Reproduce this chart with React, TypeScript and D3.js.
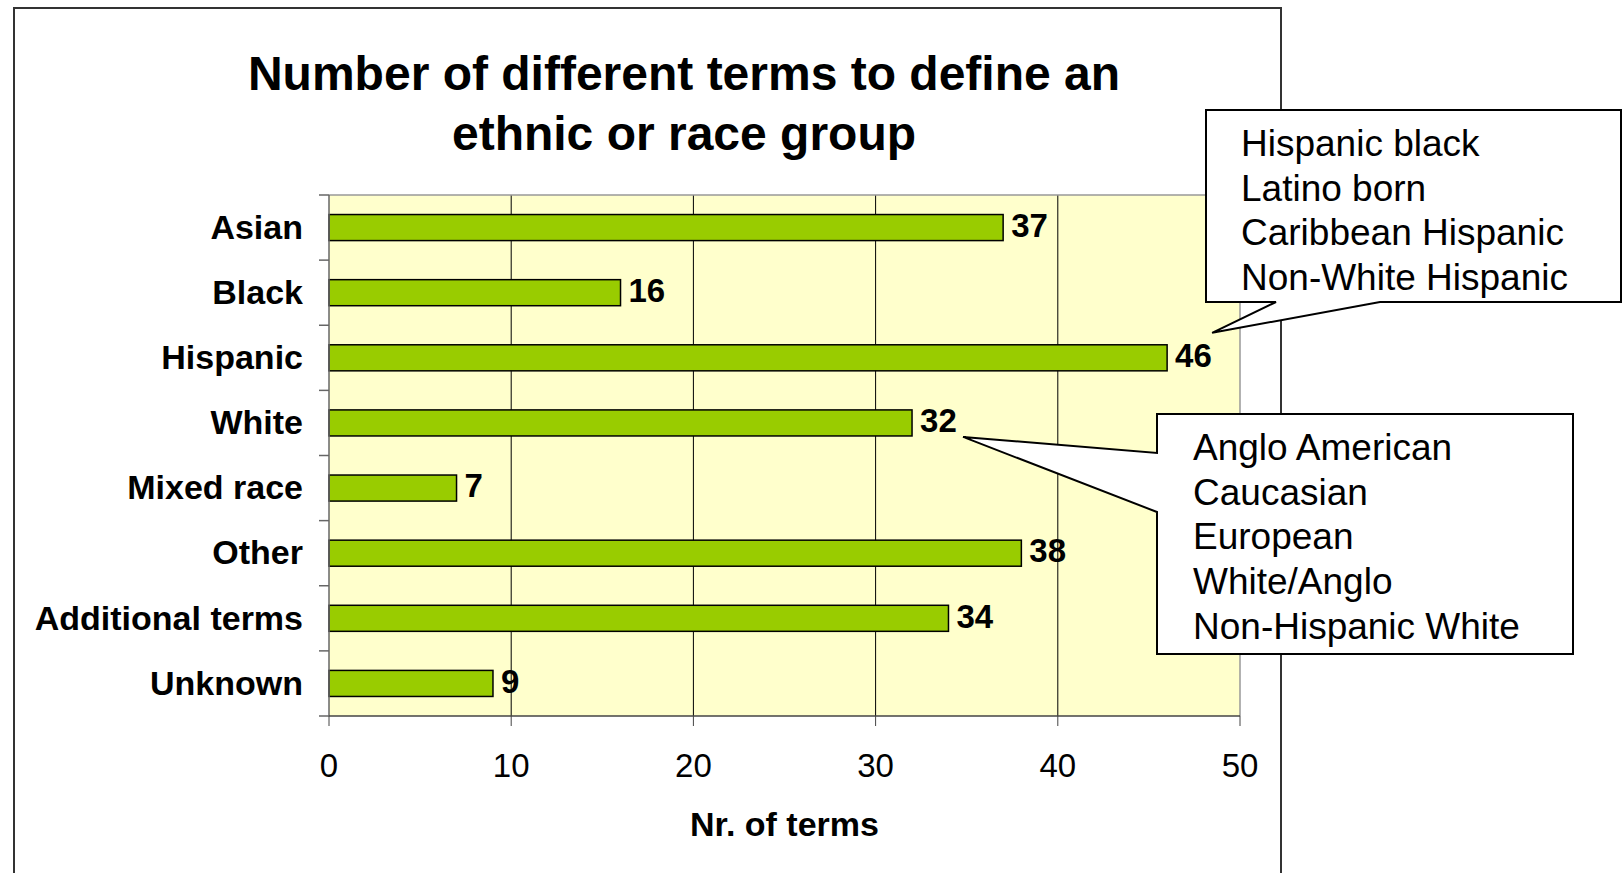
import React from "react";
import * as d3 from "d3";

const categories = ["Asian", "Black", "Hispanic", "White", "Mixed race", "Other", "Additional terms", "Unknown"];
const values = [37, 16, 46, 32, 7, 38, 34, 9];
const xTicks = [0, 10, 20, 30, 40, 50];
const titleLines = ["Number of different terms to define an", "ethnic or race group"];
const xAxisTitle = "Nr. of terms";
const hispanicTerms = ["Hispanic black", "Latino born", "Caribbean Hispanic", "Non-White Hispanic"];
const whiteTerms = ["Anglo American", "Caucasian", "European", "White/Anglo", "Non-Hispanic White"];

const W = 1623;
const H = 873;
const FONT = "'Liberation Sans', Arial, sans-serif";

export default function App() {
  const plot = { left: 329, right: 1240, top: 195, bottom: 716 };
  const x = d3.scaleLinear().domain([0, 50]).range([plot.left, plot.right]);
  const y = d3.scaleBand<string>().domain(categories).range([plot.top, plot.bottom]).paddingInner(0.6).paddingOuter(0.3);
  const band = d3.scaleBand<string>().domain(categories).range([plot.top, plot.bottom]);
  const bw = band.bandwidth();

  const hi = categories.indexOf("Hispanic");
  const wi = categories.indexOf("White");
  const hTip: [number, number] = [x(values[hi]) + 45, (band(categories[hi]) as number) + bw / 2 - 25];
  const wTip: [number, number] = [x(values[wi]) + 51, (band(categories[wi]) as number) + bw / 2 + 14];

  const box1 = { x: 1206, y: 110, w: 415, h: 192 };
  const box2 = { x: 1157, y: 414, w: 416, h: 240 };

  const call1 = `M${box1.x},${box1.y} H${box1.x + box1.w} V${box1.y + box1.h} H${1380} L${hTip[0]},${hTip[1]} L${1276},${box1.y + box1.h} H${box1.x} Z`;
  const call2 = `M${box2.x},${box2.y} H${box2.x + box2.w} V${box2.y + box2.h} H${box2.x} V${512} L${wTip[0]},${wTip[1]} L${box2.x},${453} Z`;

  return (
    <svg width={W} height={H} style={{ position: "absolute", left: 0, top: 0, background: "#fff" }} fontFamily={FONT}>
      {/* outer frame */}
      <rect x={14} y={8} width={1267} height={H + 20} fill="#fff" stroke="#333" strokeWidth={2} />

      {/* title */}
      {titleLines.map((t, i) => (
        <text key={t} x={684} y={90 + i * 60} textAnchor="middle" fontWeight="bold" fontSize={48} fill="#000">
          {t}
        </text>
      ))}

      {/* plot background */}
      <rect x={plot.left} y={plot.top} width={plot.right - plot.left} height={plot.bottom - plot.top} fill="#FFFFCC" />
      {/* gridlines */}
      {xTicks.slice(1, -1).map((t) => (
        <line key={t} x1={x(t)} x2={x(t)} y1={plot.top} y2={plot.bottom} stroke="#000" strokeWidth={1} />
      ))}
      {/* plot border top & right */}
      <line x1={plot.left} x2={plot.right} y1={plot.top} y2={plot.top} stroke="#999" strokeWidth={1.5} />
      <line x1={plot.right} x2={plot.right} y1={plot.top} y2={plot.bottom} stroke="#999" strokeWidth={1.5} />

      {/* bars */}
      {categories.map((c, i) => (
        <rect
          key={c}
          x={x(0)}
          y={y(c)}
          width={x(values[i]) - x(0)}
          height={y.bandwidth()}
          fill="#99CC00"
          stroke="#000"
          strokeWidth={1.5}
        />
      ))}

      {/* y axis */}
      <line x1={plot.left} x2={plot.left} y1={plot.top} y2={plot.bottom} stroke="#666" strokeWidth={1.5} />
      {[...categories.map((c) => band(c) as number), plot.bottom].map((v, i) => (
        <line key={i} x1={plot.left - 10} x2={plot.left} y1={v} y2={v} stroke="#666" strokeWidth={1.5} />
      ))}
      {categories.map((c) => (
        <text
          key={c}
          x={303}
          y={(band(c) as number) + bw / 2}
          dy="0.33em"
          textAnchor="end"
          fontWeight="bold"
          fontSize={34}
          fill="#000"
        >
          {c}
        </text>
      ))}

      {/* x axis */}
      <line x1={plot.left} x2={plot.right} y1={plot.bottom} y2={plot.bottom} stroke="#444" strokeWidth={1.5} />
      {xTicks.map((t) => (
        <g key={t}>
          <line x1={x(t)} x2={x(t)} y1={plot.bottom} y2={plot.bottom + 10} stroke="#444" strokeWidth={1} />
          <text x={x(t)} y={777} textAnchor="middle" fontSize={33} fill="#000">
            {t}
          </text>
        </g>
      ))}
      <text x={(plot.left + plot.right) / 2} y={836} textAnchor="middle" fontWeight="bold" fontSize={34} fill="#000">
        {xAxisTitle}
      </text>

      {/* value labels */}
      {categories.map((c, i) => (
        <text
          key={c}
          x={x(values[i]) + 8}
          y={(band(c) as number) + bw / 2}
          dy="0.28em"
          fontWeight="bold"
          fontSize={33}
          fill="#000"
        >
          {values[i]}
        </text>
      ))}

      {/* callouts */}
      <path d={call1} fill="#fff" stroke="#000" strokeWidth={2} strokeLinejoin="miter" />
      {hispanicTerms.map((t, i) => (
        <text key={t} x={1241} y={156 + i * 44.7} fontSize={37} fill="#000">
          {t}
        </text>
      ))}
      <path d={call2} fill="#fff" stroke="#000" strokeWidth={2} strokeLinejoin="miter" />
      {whiteTerms.map((t, i) => (
        <text key={t} x={1193} y={460 + i * 44.7} fontSize={37} fill="#000">
          {t}
        </text>
      ))}
    </svg>
  );
}
